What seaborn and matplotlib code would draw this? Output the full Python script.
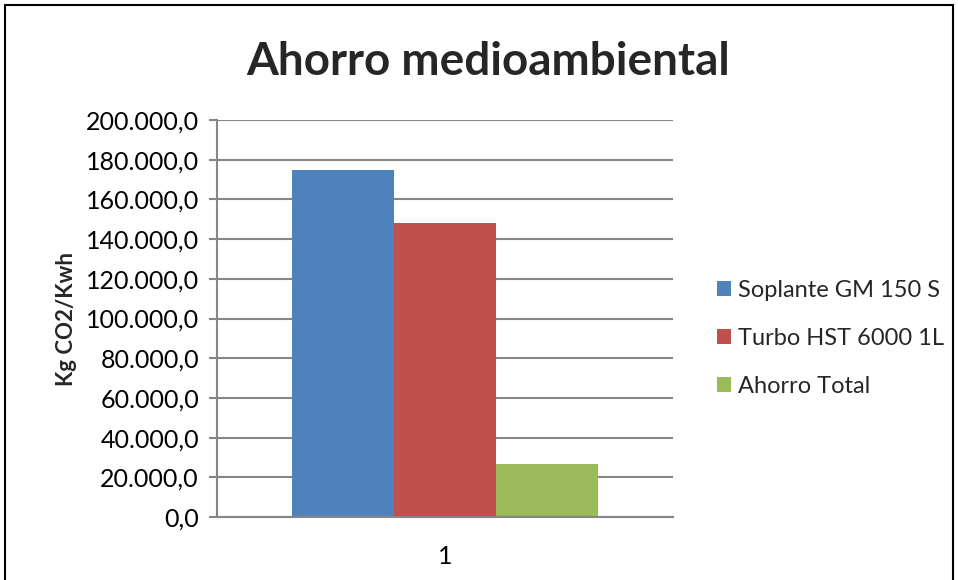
import matplotlib
matplotlib.use("Agg")
import matplotlib.pyplot as plt
from matplotlib.ticker import FuncFormatter, MultipleLocator
from matplotlib.patches import Rectangle
import seaborn as sns
import pandas as pd

categories = ["1"]
series = ["Soplante GM 150 S", "Turbo HST 6000 1L", "Ahorro Total"]
values = [174800, 148100, 26700]
colors = ["#4F81BD", "#C0504D", "#9BBB59"]

df = pd.DataFrame({"cat": categories * len(series), "serie": series, "valor": values})

sns.set_theme(style="white")
plt.rcParams["font.family"] = ["Lato", "DejaVu Sans"]

fig = plt.figure(figsize=(9.58, 5.8), dpi=100)
ax = fig.add_axes([0.2265, 0.1086, 0.476, 0.6845])

sns.barplot(data=df, x="cat", y="valor", hue="serie", hue_order=series,
            palette=colors, width=0.669, saturation=1, ax=ax, legend=True,
            linewidth=0)

grid_c = "#868686"
ax.set_ylim(0, 200000)
ax.set_xlim(-0.5, 0.5)
ax.yaxis.set_major_locator(MultipleLocator(20000))


def fmt(v, _):
    s = f"{v:,.1f}"
    return s.replace(",", "X").replace(".", ",").replace("X", ".")


ax.yaxis.set_major_formatter(FuncFormatter(fmt))
ax.yaxis.grid(True, color=grid_c, linewidth=1.5)
ax.set_axisbelow(True)
for s in ["top", "right"]:
    ax.spines[s].set_visible(False)
for s in ["left", "bottom"]:
    ax.spines[s].set_color(grid_c)
    ax.spines[s].set_linewidth(1.5)
ax.tick_params(axis="y", length=6, width=1.5, color=grid_c, labelsize=18,
               labelcolor="black", pad=7, left=True)
ax.tick_params(axis="x", length=0, labelsize=18, labelcolor="black", pad=20)
ax.set_xlabel("")
ax.set_ylabel("Kg CO2/Kwh", fontsize=16, fontweight="bold", labelpad=6)

leg = ax.legend(loc="center left", bbox_to_anchor=(1.05, 0.45), frameon=False,
                fontsize=17, handlelength=0.6, handleheight=0.6,
                handletextpad=0.3, labelspacing=1.15)

fig.text(0.51, 0.893, "Ahorro medioambiental", ha="center", va="center",
         fontsize=33, fontweight="bold")

fig.patches.append(Rectangle((0.005, -0.05), 0.99, 1.041, transform=fig.transFigure,
                             fill=False, edgecolor="black", linewidth=1.5))

fig.savefig("out.png", dpi=100)
